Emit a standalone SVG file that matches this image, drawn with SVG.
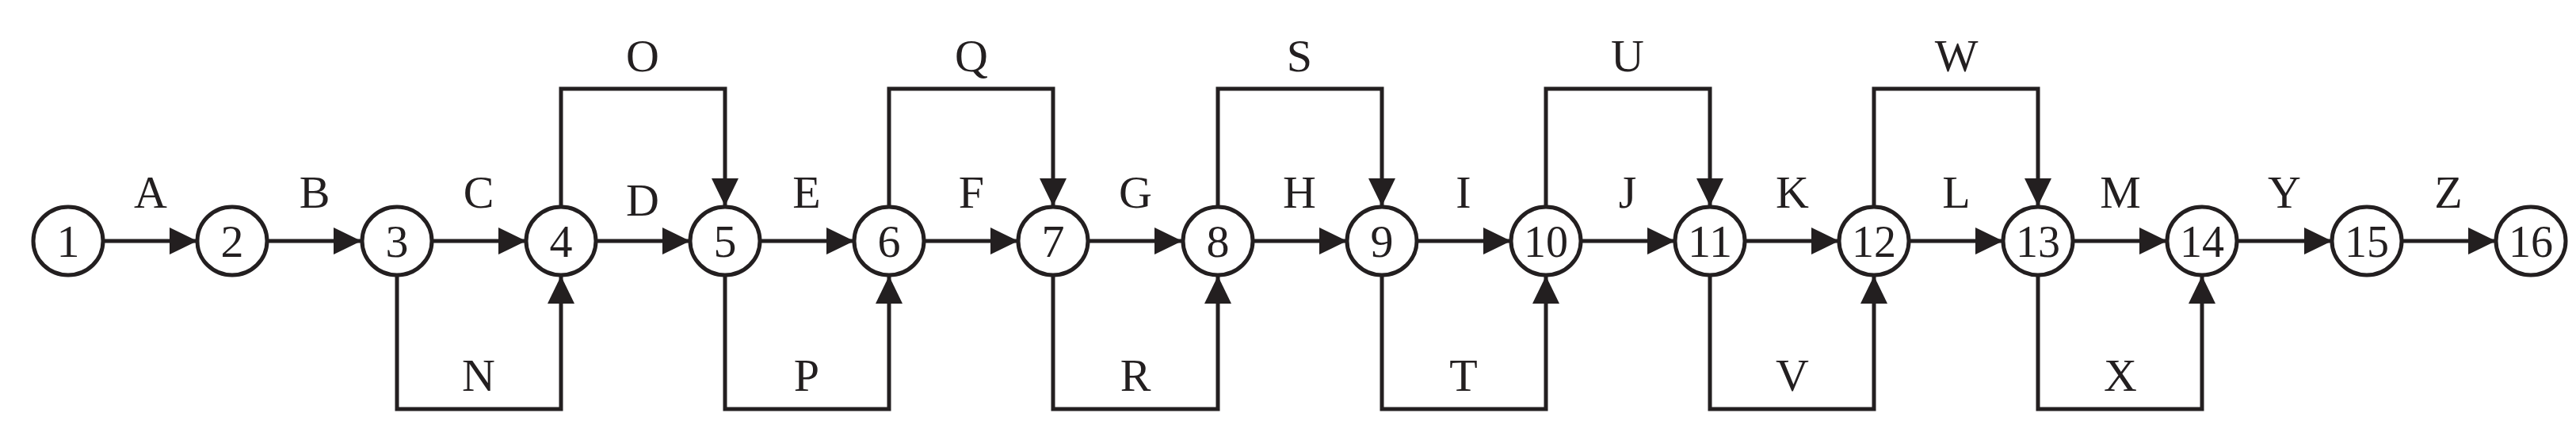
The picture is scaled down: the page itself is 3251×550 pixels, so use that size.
<svg xmlns="http://www.w3.org/2000/svg" width="3251" height="550" viewBox="0 0 3251 550">
<style>
.n{fill:#fff;stroke:#231f20;stroke-width:5}
.t{font-family:"Liberation Serif",serif;font-size:58px;fill:#231f20;text-anchor:middle}
.e{fill:none;stroke:#231f20;stroke-width:5;marker-end:url(#a)}
</style>
<defs><marker id="a" markerUnits="userSpaceOnUse" markerWidth="36" markerHeight="36" refX="35" refY="17" orient="auto"><path d="M0,0L35,17L0,34z" fill="#231f20"/></marker></defs>
<rect width="3251" height="550" fill="#fff"/>
<g id="connectors">
<path class="e" d="M130,304H249"/><path class="e" d="M337,304H456"/><path class="e" d="M544,304H664"/><path class="e" d="M752,304H871"/><path class="e" d="M959,304H1078"/><path class="e" d="M1166,304H1285"/><path class="e" d="M1373,304H1492"/><path class="e" d="M1580,304H1700"/><path class="e" d="M1788,304H1907"/><path class="e" d="M1995,304H2114"/><path class="e" d="M2202,304H2321"/><path class="e" d="M2409,304H2528"/><path class="e" d="M2616,304H2735"/><path class="e" d="M2823,304H2943"/><path class="e" d="M3031,304H3150"/>
<path class="e" d="M708,260V112H915V260"/><path class="e" d="M1122,260V112H1329V260"/><path class="e" d="M1537,260V112H1744V260"/><path class="e" d="M1951,260V112H2158V260"/><path class="e" d="M2365,260V112H2572V260"/>
<path class="e" d="M501,348V516H708V348"/><path class="e" d="M915,348V516H1122V348"/><path class="e" d="M1329,348V516H1537V348"/><path class="e" d="M1744,348V516H1951V348"/><path class="e" d="M2158,348V516H2365V348"/><path class="e" d="M2572,348V516H2779V348"/>
</g>
<g id="labels" class="t">
<text x="190" y="262">A</text><text x="397" y="262">B</text><text x="604" y="262">C</text><text x="811" y="272">D</text><text x="1018" y="262">E</text><text x="1226" y="262">F</text><text x="1433" y="262">G</text><text x="1640" y="262">H</text><text x="1847" y="262">I</text><text x="2054" y="262">J</text><text x="2262" y="262">K</text><text x="2469" y="262">L</text><text x="2676" y="262">M</text><text x="2883" y="262">Y</text><text x="3090" y="262">Z</text>
<text x="811" y="90">O</text><text x="1226" y="90">Q</text><text x="1640" y="90">S</text><text x="2054" y="90">U</text><text x="2469" y="90">W</text>
<text x="604" y="493">N</text><text x="1018" y="493">P</text><text x="1433" y="493">R</text><text x="1847" y="493">T</text><text x="2262" y="493">V</text><text x="2676" y="493">X</text>
</g>
<g id="n1"><ellipse class="n" cx="86" cy="304" rx="44" ry="43"/><text class="t" x="86" y="324">1</text></g>
<g id="n2"><ellipse class="n" cx="293" cy="304" rx="44" ry="43"/><text class="t" x="293" y="324">2</text></g>
<g id="n3"><ellipse class="n" cx="501" cy="304" rx="44" ry="43"/><text class="t" x="501" y="324">3</text></g>
<g id="n4"><ellipse class="n" cx="708" cy="304" rx="44" ry="43"/><text class="t" x="708" y="324">4</text></g>
<g id="n5"><ellipse class="n" cx="915" cy="304" rx="44" ry="43"/><text class="t" x="915" y="324">5</text></g>
<g id="n6"><ellipse class="n" cx="1122" cy="304" rx="44" ry="43"/><text class="t" x="1122" y="324">6</text></g>
<g id="n7"><ellipse class="n" cx="1329" cy="304" rx="44" ry="43"/><text class="t" x="1329" y="324">7</text></g>
<g id="n8"><ellipse class="n" cx="1537" cy="304" rx="44" ry="43"/><text class="t" x="1537" y="324">8</text></g>
<g id="n9"><ellipse class="n" cx="1744" cy="304" rx="44" ry="43"/><text class="t" x="1744" y="324">9</text></g>
<g id="n10"><ellipse class="n" cx="1951" cy="304" rx="44" ry="43"/><text class="t" x="1951" y="324" textLength="56" lengthAdjust="spacingAndGlyphs">10</text></g>
<g id="n11"><ellipse class="n" cx="2158" cy="304" rx="44" ry="43"/><text class="t" x="2158" y="324" textLength="56" lengthAdjust="spacingAndGlyphs">11</text></g>
<g id="n12"><ellipse class="n" cx="2365" cy="304" rx="44" ry="43"/><text class="t" x="2365" y="324" textLength="56" lengthAdjust="spacingAndGlyphs">12</text></g>
<g id="n13"><ellipse class="n" cx="2572" cy="304" rx="44" ry="43"/><text class="t" x="2572" y="324" textLength="56" lengthAdjust="spacingAndGlyphs">13</text></g>
<g id="n14"><ellipse class="n" cx="2779" cy="304" rx="44" ry="43"/><text class="t" x="2779" y="324" textLength="56" lengthAdjust="spacingAndGlyphs">14</text></g>
<g id="n15"><ellipse class="n" cx="2987" cy="304" rx="44" ry="43"/><text class="t" x="2987" y="324" textLength="56" lengthAdjust="spacingAndGlyphs">15</text></g>
<g id="n16"><ellipse class="n" cx="3194" cy="304" rx="44" ry="43"/><text class="t" x="3194" y="324" textLength="56" lengthAdjust="spacingAndGlyphs">16</text></g>
</svg>
